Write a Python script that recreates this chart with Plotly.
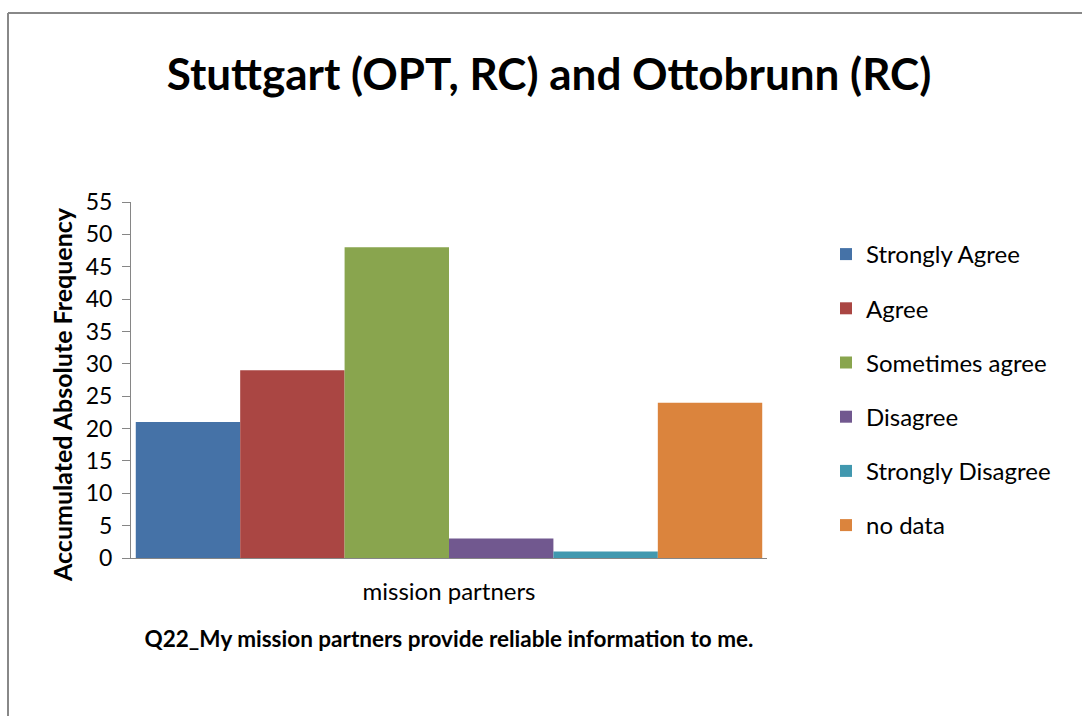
import plotly.graph_objects as go

categories = ["mission partners"]
series_names = ["Strongly Agree", "Agree", "Sometimes agree", "Disagree", "Strongly Disagree", "no data"]
series_values = [21, 29, 48, 3, 1, 24]
series_colors = ["#4572A7", "#AA4643", "#89A54E", "#71588F", "#4198AF", "#DB843D"]
y_ticks = list(range(0, 56, 5))

FONT = "Lato"

fig = go.Figure()
for i, (name, val, col) in enumerate(zip(series_names, series_values, series_colors)):
    fig.add_trace(go.Bar(
        x=categories, y=[val], name=name, marker_color=col,
        marker_line_width=0, legendgroup=f"g{i}",
    ))

L, R, T, B = 131, 315, 202, 158
W = 1082 - L - R
H = 716 - T - B

def px_x(p):
    return (p - L) / W

def px_y(p):
    return (716 - B - p) / H

fig.update_layout(
    width=1082, height=716,
    margin=dict(l=L, r=R, t=T, b=B),
    paper_bgcolor="white", plot_bgcolor="white",
    font=dict(family=FONT, color="black"),
    barmode="group", bargap=0.015, bargroupgap=0,
    title=dict(
        text="<b>Stuttgart (OPT, RC) and Ottobrunn (RC)</b>",
        x=549 / 1082, xref="container", xanchor="center",
        y=1 - 75 / 716, yref="container", yanchor="middle",
        font=dict(size=44, family=FONT, color="black"),
    ),
    legend=dict(
        x=px_x(826), xanchor="left", y=px_y(232), yanchor="top",
        font=dict(size=24, family=FONT, color="black"),
        tracegroupgap=20, itemwidth=30, traceorder="grouped",
    ),
    showlegend=True,
    xaxis=dict(
        showline=True, linecolor="#868686", linewidth=1,
        ticks="", tickfont=dict(size=24, family=FONT, color="black"),
        ticklabelstandoff=12,
        title=dict(
            text="<b>Q22_My mission partners provide reliable information to me.</b>",
            font=dict(size=22.5, family=FONT, color="black"), standoff=27,
        ),
        showgrid=False, zeroline=False,
    ),
    yaxis=dict(
        range=[0, 55], tickvals=y_ticks, showline=True, linecolor="#868686", linewidth=1,
        ticks="outside", ticklen=8, tickcolor="#868686", tickwidth=1,
        tickfont=dict(size=23, family=FONT, color="black"),
        ticklabelstandoff=5,
        showgrid=False, zeroline=False,
    ),
    annotations=[
        dict(text="<b>Accumulated Absolute Frequency</b>", textangle=-90,
             xref="paper", yref="paper", x=px_x(62), y=px_y(395),
             xanchor="center", yanchor="middle", showarrow=False,
             font=dict(size=25, family=FONT, color="black")),
    ],
    shapes=[
        dict(type="line", xref="paper", yref="paper",
             x0=px_x(8), x1=px_x(1082), y0=px_y(13), y1=px_y(13),
             line=dict(color="#888888", width=2)),
        dict(type="line", xref="paper", yref="paper",
             x0=px_x(8), x1=px_x(8), y0=px_y(13), y1=px_y(716),
             line=dict(color="#888888", width=2)),
    ],
)

fig.write_html(
    "out.html",
    config={"displayModeBar": False},
    post_script="document.body.style.margin='0';document.body.style.overflow='hidden';",
)
